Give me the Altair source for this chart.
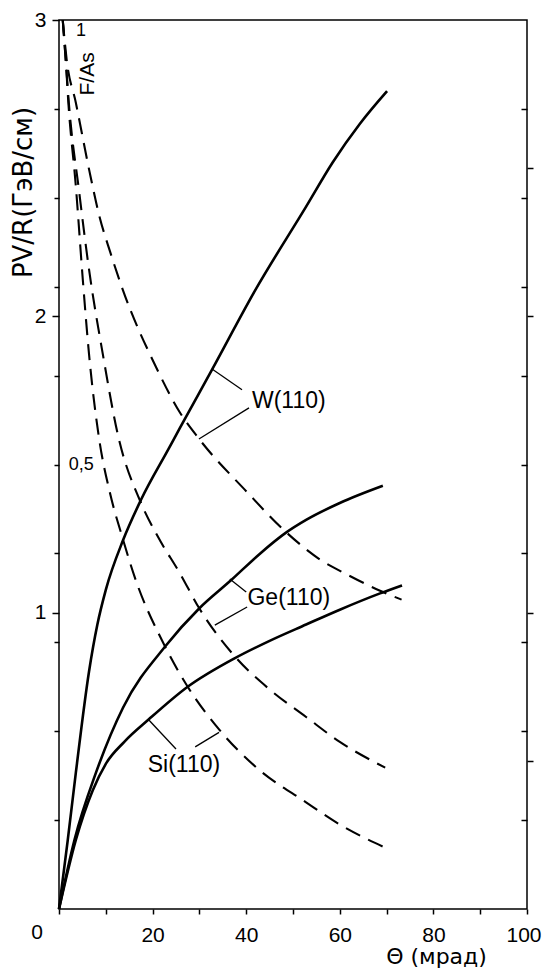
import altair as alt
import pandas as pd

FONT = "Liberation Sans"
TITLE_FONT = "DejaVu Sans"

# ---- solid curves: PV/R (GeV/cm) vs theta (mrad)
theta_W = [0, 1.85, 3.6, 6.4, 8.2, 10, 13.7, 17.5, 23.5, 25.9, 32.7, 42, 52.8, 58.5, 64.3, 70.1]
pv_W = [0, 0.23, 0.46, 0.80, 0.96, 1.077, 1.245, 1.38, 1.555, 1.625, 1.82, 2.09, 2.37, 2.52, 2.65, 2.76]

theta_Ge = [0, 3.3, 7.9, 13.7, 22.9, 30.0, 36.8, 43, 48.5, 52.8, 60, 69.2]
pv_Ge = [0, 0.233, 0.46, 0.68, 0.89, 1.015, 1.11, 1.20, 1.27, 1.313, 1.37, 1.428]

theta_Si = [0, 3.6, 7.2, 10, 14, 19.2, 27.5, 37.4, 45, 52.8, 60, 68.6, 73.3]
pv_Si = [0, 0.233, 0.40, 0.49, 0.565, 0.64, 0.75, 0.845, 0.905, 0.96, 1.01, 1.065, 1.092]

# ---- dashed curves: F/As vs theta (mrad)
theta_W_d = [0.8, 1.6, 3.6, 6.5, 8.6, 11, 13.6, 20.7, 25.9, 29.9, 40, 48.5, 55.8, 62, 68.6, 73.2]
fas_W = [1.0, 0.957, 0.907, 0.83, 0.78, 0.738, 0.697, 0.61, 0.558, 0.529, 0.47, 0.424, 0.393, 0.375, 0.358, 0.348]

theta_Ge_d = [0.8, 1.5, 2.1, 4.3, 6.4, 9.4, 12.6, 17.5, 21, 25.9, 30, 37.6, 45, 52.8, 60, 69.7]
fas_Ge = [1.0, 0.95, 0.907, 0.807, 0.72, 0.623, 0.533, 0.457, 0.42, 0.377, 0.338, 0.284, 0.247, 0.216, 0.188, 0.159]

theta_Si_d = [0.8, 1.5, 2.0, 3.6, 5.1, 6.4, 8.6, 10.8, 13.6, 16.2, 22.5, 27.5, 34.2, 42, 52.8, 60, 69.7]
fas_Si = [1.0, 0.95, 0.907, 0.813, 0.707, 0.625, 0.528, 0.47, 0.417, 0.373, 0.297, 0.25, 0.202, 0.16, 0.12, 0.095, 0.069]

# ---- curve labels and leader lines (data units)
label_text = ["W(110)", "Ge(110)", "Si(110)"]
label_x = [49.1, 49.1, 26.7]
label_y = [1.714, 1.050, 0.486]

lead_x1 = [32.7, 40.6, 36.5, 40.2, 19.2, 29.1]
lead_y1 = [1.822, 1.691, 1.114, 1.019, 0.638, 0.547]
lead_x2 = [39.1, 29.9, 40.0, 33.3, 25.0, 34.2]
lead_y2 = [1.752, 1.586, 1.070, 0.958, 0.540, 0.596]

# ---- axis ticks
x_ticks = list(range(0, 101, 10))
pv_ticks = [1, 2, 3]
fas_ticks = [0.1, 0.2, 0.3, 0.4, 0.5, 0.6, 0.7, 0.8, 0.9]
pv_right_ticks = [0.5, 1.0, 2.0, 2.5]

FAS_TO_PV = 3.0
fas_tick_pos = [round(v * FAS_TO_PV, 3) for v in fas_ticks]

solid_df = pd.concat([
    pd.DataFrame({"theta": theta_W, "pv": pv_W, "s": "W"}),
    pd.DataFrame({"theta": theta_Ge, "pv": pv_Ge, "s": "Ge"}),
    pd.DataFrame({"theta": theta_Si, "pv": pv_Si, "s": "Si"}),
])
dashed_df = pd.concat([
    pd.DataFrame({"theta": theta_W_d, "fas": fas_W, "s": "W"}),
    pd.DataFrame({"theta": theta_Ge_d, "fas": fas_Ge, "s": "Ge"}),
    pd.DataFrame({"theta": theta_Si_d, "fas": fas_Si, "s": "Si"}),
])
labels_df = pd.DataFrame({"t": label_text, "x": label_x, "y": label_y})
lead_df = pd.DataFrame({"x1": lead_x1, "y1": lead_y1, "x2": lead_x2, "y2": lead_y2})
fas_lab_df = pd.DataFrame({"t": ["1", "0,5"], "x": [4.7, 2.1], "y": [2.963, 1.497],
                           "a": ["center", "left"]})
fas_title_df = pd.DataFrame({"t": ["F/As"], "x": [6.3], "y": [2.818]})
origin_df = pd.DataFrame({"t": ["0"], "x": [0.0], "y": [0.0]})

xs = alt.Scale(domain=[0, 100], nice=False, zero=False)
ys = alt.Scale(domain=[0, 3], nice=False, zero=False)

x_axis = alt.Axis(
    values=x_ticks,
    labelExpr="datum.value % 20 == 0 && datum.value > 0 ? datum.value : ''",
    tickSize=5, tickWidth=1.5, tickColor="black", domain=False, grid=False,
    labelFont=FONT, labelFontSize=21, labelColor="black", labelPadding=10,
    labelFlush=True, labelFlushOffset=14, labelOverlap=False,
    title="Θ (мрад)", titleFont=TITLE_FONT, titleFontSize=22, titleFontWeight="normal",
    titleColor="black", titleX=377, titleY=47, titleAlign="center",
    titleBaseline="middle", titleAngle=0,
)

y_main = alt.Axis(
    orient="left", values=pv_ticks, tickSize=7, tickWidth=1.5, tickColor="black",
    domain=False, grid=False, labelFont=FONT, labelFontSize=21, labelColor="black",
    labelPadding=6, labelFlush=False, labelOverlap=False,
    title="PV/R(ГэВ/см)", titleFont=TITLE_FONT, titleFontSize=26, titleFontWeight="normal",
    titleColor="black", titleX=-36, titleY=172, titleAngle=270,
    titleAlign="center", titleBaseline="middle",
)
y_fas_left = alt.Axis(
    orient="left", values=fas_tick_pos, tickSize=5, tickWidth=1.5, tickColor="black",
    domain=False, grid=False, labels=False, title=None,
)
y_right_out = alt.Axis(
    orient="right", values=pv_right_ticks, tickSize=6, tickWidth=1.5, tickColor="black",
    domain=False, grid=False, labels=False, title=None,
)
y_right_in = alt.Axis(
    orient="right", offset=-6, values=fas_tick_pos, tickSize=6, tickWidth=1.5,
    tickColor="black", domain=False, grid=False, labels=False, title=None,
)

solid = alt.Chart(solid_df).mark_line(
    color="black", strokeWidth=2.6, interpolate="monotone"
).encode(
    x=alt.X("theta:Q", scale=xs, axis=x_axis),
    y=alt.Y("pv:Q", scale=ys, axis=y_main),
    detail="s:N",
)

dashed = alt.Chart(dashed_df).transform_calculate(
    pv=f"datum.fas * {FAS_TO_PV}"
).mark_line(
    color="black", strokeWidth=2.1, strokeDash=[16, 9], interpolate="monotone"
).encode(
    x=alt.X("theta:Q", scale=xs, axis=x_axis),
    y=alt.Y("pv:Q", scale=ys, axis=y_fas_left),
    detail="s:N",
)

leaders = alt.Chart(lead_df).mark_rule(color="black", strokeWidth=1.3).encode(
    x=alt.X("x1:Q", scale=xs, axis=x_axis),
    y=alt.Y("y1:Q", scale=ys, axis=y_right_out),
    x2="x2:Q",
    y2="y2:Q",
)

curve_labels = alt.Chart(labels_df).mark_text(
    font=FONT, fontSize=23, color="black", align="center", baseline="middle"
).encode(
    x=alt.X("x:Q", scale=xs, axis=x_axis),
    y=alt.Y("y:Q", scale=ys, axis=y_right_in),
    text="t:N",
)

fas_labels_c = alt.Chart(fas_lab_df).transform_filter("datum.a == 'center'").mark_text(
    font=FONT, fontSize=18, color="black", align="center", baseline="middle"
).encode(
    x=alt.X("x:Q", scale=xs, axis=x_axis),
    y=alt.Y("y:Q", scale=ys, axis=None),
    text="t:N",
)
fas_labels_l = alt.Chart(fas_lab_df).transform_filter("datum.a == 'left'").mark_text(
    font=FONT, fontSize=18, color="black", align="left", baseline="middle"
).encode(
    x=alt.X("x:Q", scale=xs, axis=x_axis),
    y=alt.Y("y:Q", scale=ys, axis=None),
    text="t:N",
)
fas_title = alt.Chart(fas_title_df).mark_text(
    font=FONT, fontSize=21, color="black", align="center", baseline="middle", angle=270
).encode(
    x=alt.X("x:Q", scale=xs, axis=x_axis),
    y=alt.Y("y:Q", scale=ys, axis=None),
    text="t:N",
)
origin_label = alt.Chart(origin_df).mark_text(
    font=FONT, fontSize=21, color="black", align="center", baseline="middle",
    dx=-22, dy=24
).encode(
    x=alt.X("x:Q", scale=xs, axis=x_axis),
    y=alt.Y("y:Q", scale=ys, axis=None),
    text="t:N",
)

chart = alt.layer(
    solid, dashed, leaders, curve_labels, fas_labels_c, fas_labels_l, fas_title, origin_label
).resolve_axis(
    y="independent"
).properties(
    width=468, height=889,
    autosize=alt.AutoSizeParams(type="none"),
    padding={"left": 59, "top": 20, "right": 15, "bottom": 61},
    background="white",
).configure_view(
    stroke="black", strokeWidth=1.5
)

chart.save("out.html", embed_options={"renderer": "svg", "actions": False})
